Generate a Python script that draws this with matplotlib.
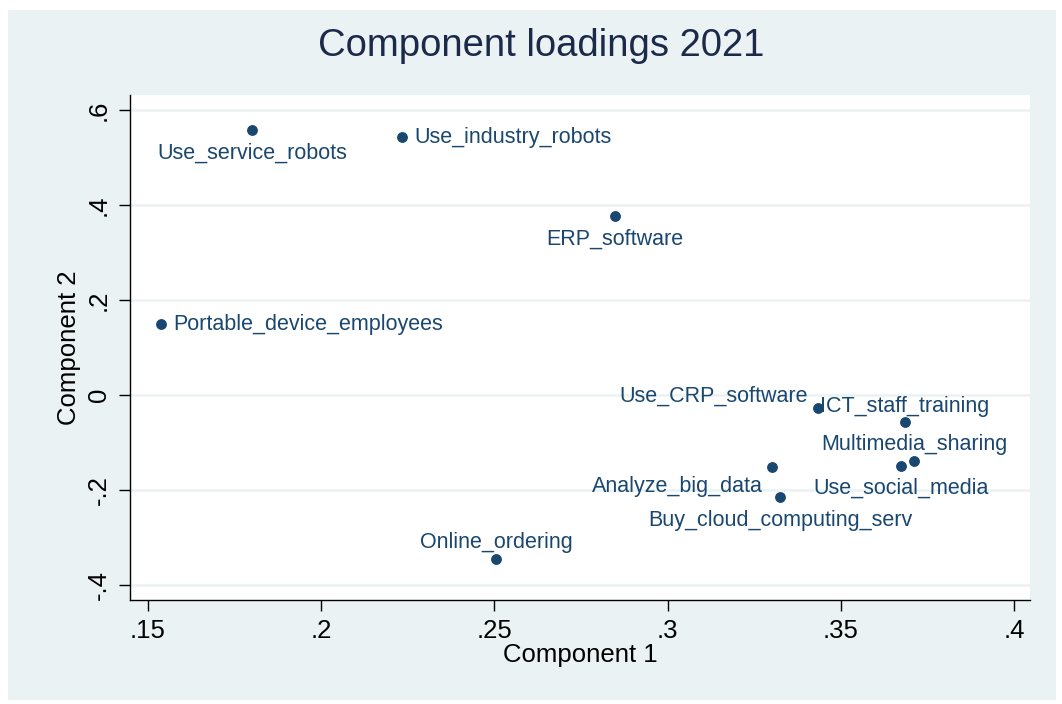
import matplotlib
matplotlib.use("Agg")
import matplotlib.pyplot as plt
from matplotlib.patches import Rectangle

# component loadings
labels = ["Use_service_robots", "Use_industry_robots", "ERP_software",
          "Portable_device_employees", "Use_CRP_software", "ICT_staff_training",
          "Multimedia_sharing", "Use_social_media", "Analyze_big_data",
          "Buy_cloud_computing_serv", "Online_ordering"]
comp1 = [0.180, 0.2233, 0.2848, 0.1538, 0.3434, 0.3685, 0.3711, 0.3674, 0.3301, 0.3324, 0.2505]
comp2 = [0.558, 0.543, 0.377, 0.149, -0.027, -0.057, -0.139, -0.149, -0.152, -0.215, -0.345]

xticks = [0.15, 0.2, 0.25, 0.3, 0.35, 0.4]
xticklabels = [".15", ".2", ".25", ".3", ".35", ".4"]
yticks = [-0.4, -0.2, 0, 0.2, 0.4, 0.6]
yticklabels = ["-.4", "-.2", "0", ".2", ".4", ".6"]

# label placement (Stata clock positions)
label_pos = [6, 3, 6, 3, 10, 12, 12, 6, 8, 6, 12]

BG = "#eaf2f3"
NAVY = "#1a476f"

plt.rcParams["font.family"] = ["Liberation Sans", "DejaVu Sans"]

fig = plt.figure(figsize=(10.62, 7.04), dpi=100, facecolor="white")
fig.patches.append(Rectangle((8 / 1062, 4 / 704), 1048 / 1062, 690 / 704,
                             transform=fig.transFigure, facecolor=BG,
                             edgecolor="none", zorder=-10))

ax = fig.add_axes([130 / 1062, 1 - 600 / 704, 900 / 1062, 505 / 704])
ax.set_facecolor("white")

ax.scatter(comp1, comp2, s=46, color=NAVY, zorder=3)

offsets = {
    3: ((12, 0), "left", "center"),
    6: ((0, -23), "center", "center"),
    12: ((0, 16), "center", "center"),
    10: ((-10, 12), "right", "center"),
    8: ((-9, -19), "right", "center"),
}
for x, y, lab, pos in zip(comp1, comp2, labels, label_pos):
    off, ha, va = offsets[pos]
    ax.annotate(lab, (x, y), xytext=off, textcoords="offset pixels",
                ha=ha, va=va, fontsize=15.5, color=NAVY, zorder=4)

ax.set_xlim(0.1448, 0.4046)
ax.set_ylim(-0.432, 0.632)
ax.set_xticks(xticks)
ax.set_xticklabels(xticklabels)
ax.set_yticks(yticks)
ax.set_yticklabels(yticklabels, rotation=90, va="center")
ax.tick_params(axis="both", labelsize=18.5, length=8, width=1, colors="black", pad=6)

ax.yaxis.grid(True, color=BG, linewidth=1.8)
ax.xaxis.grid(False)
ax.set_axisbelow(True)

for side in ["top", "right"]:
    ax.spines[side].set_visible(False)
for side in ["left", "bottom"]:
    ax.spines[side].set_color("black")
    ax.spines[side].set_linewidth(1)

ax.set_xlabel("Component 1", fontsize=18.5, labelpad=0)
ax.set_ylabel("Component 2", fontsize=18.5, labelpad=4)

fig.text(541 / 1062, 1 - 46 / 704, "Component loadings 2021", fontsize=27.5,
         color="#1c2a4a", ha="center", va="center")

fig.savefig("out.png", dpi=100, facecolor=fig.get_facecolor())
